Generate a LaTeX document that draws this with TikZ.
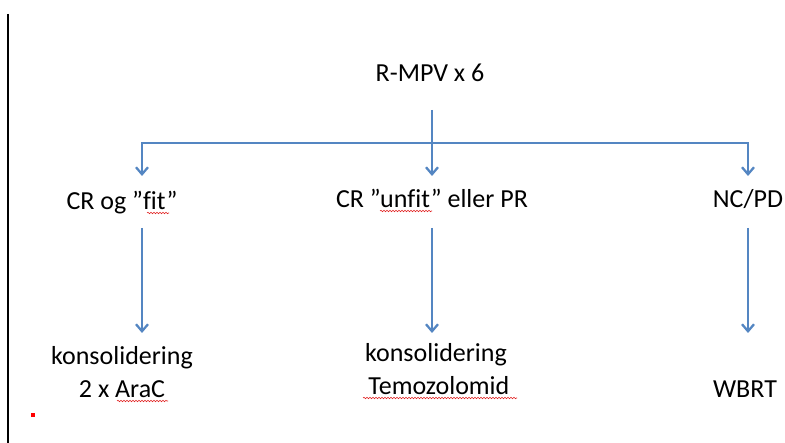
\documentclass[tikz,border=0pt]{standalone}
\usepackage{fontspec}
\setmainfont[Ligatures=CommonOff]{Carlito}
\usetikzlibrary{arrows.meta,decorations.pathmorphing}
\definecolor{arrowblue}{RGB}{84,134,194}
\definecolor{spellred}{RGB}{225,30,30}
\tikzset{
  lbl/.style={anchor=base, inner sep=0pt, font=\fontsize{26}{33}\selectfont, align=center},
  arr/.style={draw=arrowblue, line width=2.3pt, line join=miter,
    -{Straight Barb[length=7pt,width=12pt,line width=2.3pt]}},
  squiggle/.style={draw=spellred, line width=0.6pt,
    decorate, decoration={snake, amplitude=0.7pt, segment length=3pt}}
}
\begin{document}
\begin{tikzpicture}[x=1pt,y=-1pt]
\useasboundingbox (0,0) rectangle (785,443);
% left margin line and red mark
\draw[line width=2pt] (8,14) -- (8,443);
\fill[red] (31,413) rectangle (35,417);
% nodes
\node[lbl] (r)  at (430,82)  {R-MPV x 6};
\node[lbl] (b1) at (122,210) {CR og ”fit”};
\node[lbl] (b2) at (432,208) {CR ”unfit” eller PR};
\node[lbl] (b3) at (748,208) {NC/PD};
\node[lbl] (c1) at (122,398) {konsolidering\\2 x AraC};
\node[lbl] (c2) at (436,395) {konsolidering\\\ Temozolomid};
\node[lbl] (c3) at (745,398) {WBRT};
% junction coordinates
\coordinate (rs) at (432,110);
\coordinate (j2) at (432,143);
\coordinate (t1) at (142,176);
\coordinate (t2) at (432,176);
\coordinate (t3) at (748,176);
\coordinate (s1) at (142,228);
\coordinate (s2) at (432,228);
\coordinate (s3) at (748,228);
\coordinate (e1) at (142,333);
\coordinate (e2) at (432,333);
\coordinate (e3) at (748,333);
% connectors
\draw[arr] (rs) -- (t2);
\draw[arr] (j2) -| (t1);
\draw[arr] (j2) -| (t3);
\draw[arr] (s1) -- (e1);
\draw[arr] (s2) -- (e2);
\draw[arr] (s3) -- (e3);
% spell-check underlines
\draw[squiggle] (147,213) -- (169,213);
\draw[squiggle] (380,211) -- (432,211);
\draw[squiggle] (117,401) -- (168,401);
\draw[squiggle] (363,398) -- (517,398);
\end{tikzpicture}
\end{document}
